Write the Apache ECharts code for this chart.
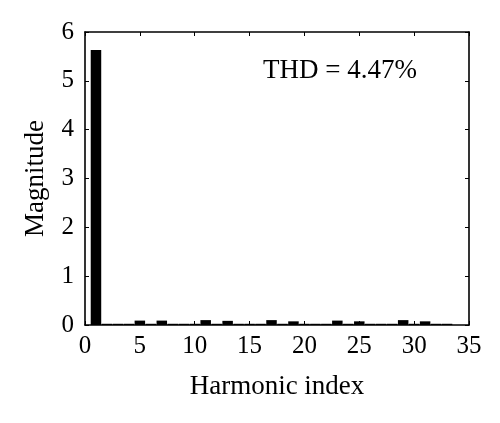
<!DOCTYPE html>
<html>
<head>
<meta charset="utf-8">
<script src="https://cdn.jsdelivr.net/npm/echarts@6/dist/echarts.min.js"></script>
<style>html,body{margin:0;padding:0;background:#fff}#c{width:500px;height:423px}</style>
</head>
<body>
<div id="c"></div>
<script>
var harmonics = [1,2,3,4,5,6,7,8,9,10,11,12,13,14,15,16,17,18,19,20,21,22,23,24,25,26,27,28,29,30,31,32,33];
var magnitudes = [5.63,0.025,0.025,0.025,0.09,0.025,0.09,0.025,0.025,0.025,0.1,0.025,0.085,0.025,0.025,0.025,0.1,0.025,0.075,0.025,0.025,0.025,0.09,0.025,0.075,0.025,0.025,0.025,0.1,0.025,0.075,0.025,0.025];
var xTicks = [0,5,10,15,20,25,30,35];
var yTicks = [0,1,2,3,4,5,6];
var annotation = 'THD = 4.47%';
var xTitle = 'Harmonic index';
var yTitle = 'Magnitude';

var FONT = '"Liberation Serif", "DejaVu Serif", serif';
var chart = echarts.init(document.getElementById('c'), null, {renderer:'canvas'});
var lineStyle = {color:'#000', width:1.6};
function xAx(pos, show){
  return {
    type:'value', position:pos, min:xTicks[0], max:xTicks[xTicks.length-1], interval:5,
    axisLine:{show:true, onZero:false, lineStyle:lineStyle},
    axisTick:{show:true, inside:true, length:4, lineStyle:{color:'#000', width:1}},
    axisLabel:{show:show, color:'#000', fontFamily:FONT, fontSize:25, margin:9},
    splitLine:{show:false},
    name: show ? xTitle : '', nameLocation:'middle', nameGap:48,
    nameTextStyle:{color:'#000', fontFamily:FONT, fontSize:27}
  };
}
function yAx(pos, show){
  return {
    type:'value', position:pos, min:yTicks[0], max:yTicks[yTicks.length-1], interval:1,
    axisLine:{show:true, onZero:false, lineStyle:lineStyle},
    axisTick:{show:true, inside:true, length:4, lineStyle:{color:'#000', width:1}},
    axisLabel:{show:show, color:'#000', fontFamily:FONT, fontSize:25, margin:11},
    splitLine:{show:false},
    name: show ? yTitle : '', nameLocation:'middle', nameGap:36, nameRotate:90,
    nameTextStyle:{color:'#000', fontFamily:FONT, fontSize:27}
  };
}
chart.setOption({
  animation:false,
  backgroundColor:'#fff',
  grid:{left:85, right:31, top:32, bottom:98, containLabel:false},
  xAxis:[xAx('bottom', true), xAx('top', false)],
  yAxis:[yAx('left', true), yAx('right', false)],
  series:[{
    type:'bar', xAxisIndex:0, yAxisIndex:0,
    data: harmonics.map(function(h,i){return [h, magnitudes[i]];}),
    barWidth:10.5,
    itemStyle:{color:'#000'}
  }],
  graphic:[{
    type:'text', left:263, top:57,
    style:{text:annotation, fill:'#000', font:'27px ' + FONT}
  }]
});
</script>
</body>
</html>
